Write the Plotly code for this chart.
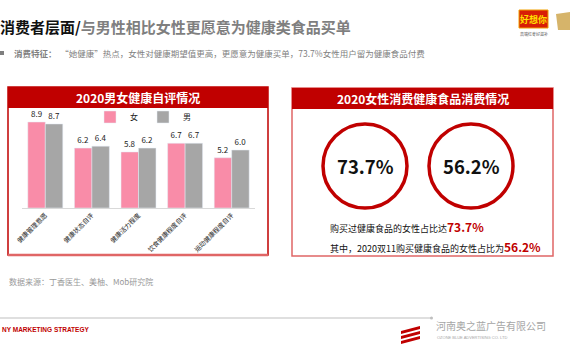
import plotly.graph_objects as go

categories = ["健康管理意愿", "健康状态自评", "健康活力程度", "饮食健康程度自评", "运动健康程度自评"]
female = [8.9, 6.2, 5.8, 6.7, 5.2]
male = [8.7, 6.4, 6.2, 6.7, 6.0]
series_names = ["女", "男"]
pct_values = ["73.7%", "56.2%"]

W, H = 570, 360
def px(x): return x / W
def py(y): return 1 - y / H

FONT = "Noto Sans CJK SC"
RED = "#C00000"
PINK = "#F98CA8"
GRAY = "#A6A6A6"

fig = go.Figure()
fig.add_trace(go.Bar(x=categories, y=female, name=series_names[0], marker_color=PINK,
                     text=[f"{v:.1f}" for v in female], textposition="outside",
                     textfont=dict(size=8, color="#222", family=FONT), cliponaxis=False))
fig.add_trace(go.Bar(x=categories, y=male, name=series_names[1], marker_color=GRAY,
                     text=[f"{v:.1f}" for v in male], textposition="outside",
                     textfont=dict(size=8, color="#222", family=FONT), cliponaxis=False))

shapes = []
ann = []

def A(x, y, text, size, color="#111", xanchor="center", family=FONT):
    ann.append(dict(x=px(x), y=py(y), xref="paper", yref="paper", xanchor=xanchor, yanchor="middle",
                    text=text, showarrow=False, font=dict(size=size, family=family, color=color)))

# main title
A(-2, 27, "<b><span style='color:#111'>消费者层面/</span><span style='color:#7f7f7f'>与男性相比女性更愿意为健康类食品买单</span></b>", 15, xanchor="left")
# subtitle
shapes.append(dict(type="rect", xref="paper", yref="paper", x0=px(0), x1=px(4), y0=py(55), y1=py(51),
                   fillcolor="#7f7f7f", line=dict(width=0)))
A(12, 53, "<b>消费特征：</b>  “她健康”热点，女性对健康期望值更高，更愿意为健康买单，73.7%女性用户留为健康食品付费", 8.5, "#7f7f7f", "left")

# top right logos
shapes.append(dict(type="rect", xref="paper", yref="paper", x0=px(519), x1=px(548), y0=py(28), y1=py(10),
                   fillcolor="#D81E06", line=dict(color="#F0A000", width=1)))
A(533.5, 19, "<b>好想你</b>", 9, "#FFE000")
A(533.5, 34, "高端红枣好滋补", 4, "#555")
shapes.append(dict(type="path", xref="paper", yref="paper",
                   path=f"M {px(556)},{py(14)} L {px(570)},{py(12)} L {px(570)},{py(30)} L {px(558)},{py(30)} Z",
                   fillcolor="#D6B46A", line=dict(width=0)))

# left panel
shapes.append(dict(type="rect", xref="paper", yref="paper", x0=px(8), x1=px(268), y0=py(255), y1=py(87),
                   fillcolor="rgba(0,0,0,0)", line=dict(color=RED, width=1.5)))
shapes.append(dict(type="line", xref="paper", yref="paper", x0=px(8), x1=px(268), y0=py(255), y1=py(255),
                   line=dict(color="#E06666", width=2.5)))
shapes.append(dict(type="rect", xref="paper", yref="paper", x0=px(8), x1=px(268), y0=py(108), y1=py(87),
                   fillcolor=RED, line=dict(width=0)))
A(138, 97.5, "<b>2020男女健康自评情况</b>", 12, "white")

# right panel
shapes.append(dict(type="rect", xref="paper", yref="paper", x0=px(292), x1=px(553), y0=py(256), y1=py(88),
                   fillcolor="rgba(0,0,0,0)", line=dict(color="#E06666", width=1.5)))
shapes.append(dict(type="rect", xref="paper", yref="paper", x0=px(292), x1=px(553), y0=py(109), y1=py(88),
                   fillcolor=RED, line=dict(width=0)))
A(422.5, 98.5, "<b>2020女性消费健康食品消费情况</b>", 12, "white")
for cx, val in zip([365, 471], pct_values):
    r = 42
    shapes.append(dict(type="circle", xref="paper", yref="paper", x0=px(cx - r), x1=px(cx + r),
                       y0=py(166 + r), y1=py(166 - r), line=dict(color=RED, width=3.5)))
    A(cx, 166, f"<b>{val}</b>", 18.5, "#111")
A(328, 226, f"购买过健康食品的女性占比达<b><span style='color:{RED};font-size:12px'>{pct_values[0]}</span></b>", 9, "#111", "left")
A(328, 246, f"其中，2020双11购买健康食品的女性占比为<b><span style='color:{RED};font-size:12px'>{pct_values[1]}</span></b>", 9, "#111", "left")

# data source
A(7, 281, "数据来源：丁香医生、美柚、Mob研究院", 8, "#999", "left")

# footer
shapes.append(dict(type="line", xref="paper", yref="paper", x0=0, x1=px(431), y0=py(318), y1=py(318),
                   line=dict(color="#BFBFBF", width=1)))
shapes.append(dict(type="circle", xref="paper", yref="paper", x0=px(430), x1=px(433), y0=py(319.5), y1=py(316.5),
                   fillcolor="#BFBFBF", line=dict(width=0)))
A(0, 329, "<b>NY MARKETING STRATEGY</b>", 6.5, RED, "left", "Liberation Sans")
for i in range(3):
    shapes.append(dict(type="path", xref="paper", yref="paper",
                       path=f"M {px(401)},{py(331+i*5)} L {px(420)},{py(326+i*5)} L {px(420)},{py(329+i*5)} L {px(401)},{py(334+i*5)} Z",
                       fillcolor=RED, line=dict(width=0)))
A(434, 325, "河南奥之蓝广告有限公司", 10, "#A6A6A6", "left")
A(435, 337, "OZONE BLUE ADVERTISING CO. LTD", 4, "#A6A6A6", "left", "Liberation Sans")

fig.update_layout(
    width=W, height=H, margin=dict(l=0, r=0, t=0, b=0, pad=0, autoexpand=False),
    paper_bgcolor="white", plot_bgcolor="white",
    barmode="group", bargap=0.25, bargroupgap=0,
    font=dict(family=FONT),
    showlegend=True,
    legend=dict(orientation="h", x=px(90), y=py(117), xanchor="left", yanchor="middle",
                font=dict(size=8, family=FONT, color="#222"), itemwidth=30, bgcolor="rgba(0,0,0,0)"),
    xaxis=dict(domain=[px(22), px(255)], tickangle=-45, showline=True, linecolor="#D9D9D9",
               tickfont=dict(size=6.5, family=FONT, color="#222"), ticks="", automargin=False),
    yaxis=dict(domain=[py(208), py(111.4)], range=[0, 10], visible=False, automargin=False),
    shapes=shapes, annotations=ann,
)
fig.write_html("out.html", config={"displayModeBar": False},
               post_script="document.body.style.margin='0';document.body.style.overflow='hidden';")
